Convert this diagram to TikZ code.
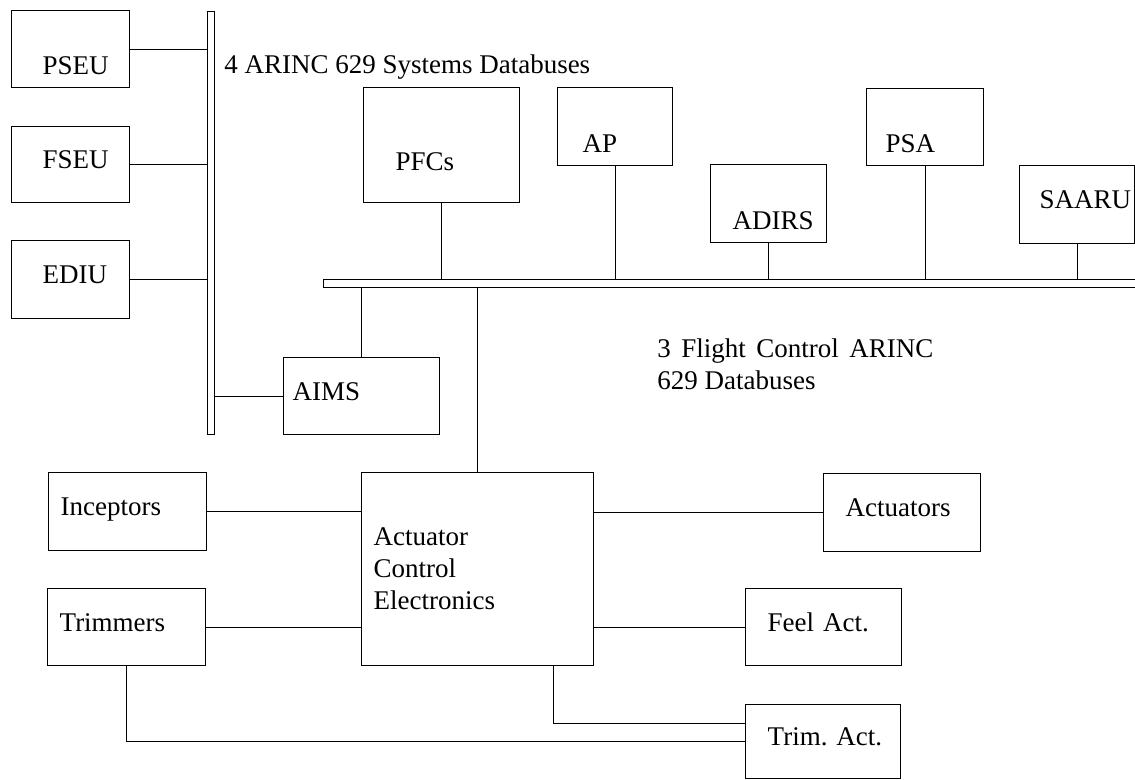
\documentclass[tikz,border=0pt]{standalone}
\usepackage{fontspec}
\setmainfont{Liberation Serif}
\usepackage{tikz}
\usetikzlibrary{positioning,calc}
\newcommand{\diagfont}{\fontsize{15.36}{18.2}\selectfont}

\begin{document}
\begin{tikzpicture}[
  box/.style={rectangle, draw, line width=0.8pt, anchor=north west,
              font=\diagfont, align=left, inner ysep=0pt},
  unitbox/.style={box, text height=10.75pt, text depth=6.3pt},
  lowtext/.style={text height=29.95pt, text depth=1.1pt},
  bus/.style={rectangle, draw, line width=0.8pt, anchor=north west, inner sep=0pt},
  buslabel/.style={font=\diagfont, inner sep=0pt},
  link/.style={line width=0.6pt}
]
\useasboundingbox (0,0) rectangle (22.70,-15.60);

% Databuses
\node[bus, minimum width=0.14cm, minimum height=8.46cm]  (sysbus) at (4.14,-0.22) {};
\node[bus, minimum width=16.34cm, minimum height=0.16cm] (fcbus)  at (6.46,-5.58) {};

\node[buslabel, anchor=base west] (syslabel) at (4.48,-1.48) {4 ARINC 629 Systems Databuses};
\node[buslabel, anchor=base west, text width=5.52cm, align=justify] (fclabel) at (13.14,-7.16)
  {3 Flight Control ARINC 629 Databuses};

% Systems units
\node[unitbox, lowtext, minimum height=1.54cm, inner xsep=0.62cm, text width=1.12cm] (pseu) at (0.22,-0.20) {PSEU};
\node[unitbox, minimum height=1.52cm, inner xsep=0.62cm, text width=1.12cm]          (fseu) at (0.22,-2.52) {FSEU};
\node[unitbox, minimum height=1.56cm, inner xsep=0.62cm, text width=1.12cm]          (ediu) at (0.22,-4.80) {EDIU};
\node[unitbox, minimum height=1.54cm, inner xsep=0.18cm, text width=2.76cm]          (aims) at (5.66,-7.14) {AIMS};

% Flight control units
\node[unitbox, lowtext, minimum height=2.30cm, inner xsep=0.64cm, text width=1.84cm] (pfcs)  at (7.26,-1.74)  {PFCs};
\node[unitbox, lowtext, minimum height=1.56cm, inner xsep=0.50cm, text width=1.30cm] (ap)    at (11.14,-1.74) {AP};
\node[unitbox, lowtext, minimum height=1.56cm, inner xsep=0.44cm, text width=1.44cm] (adirs) at (14.20,-3.28) {ADIRS};
\node[unitbox, lowtext, minimum height=1.54cm, inner xsep=0.38cm, text width=1.58cm] (psa)   at (17.32,-1.76) {PSA};
\node[unitbox, minimum height=1.56cm, inner xsep=0.40cm, text width=1.50cm]          (saaru) at (20.38,-3.30) {SAARU};

% Actuator control
\node[box, minimum height=3.86cm, inner xsep=0.24cm, text width=4.16cm] (ace) at (7.22,-9.44)
  {Actuator\\Control\\Electronics};
\node[unitbox, minimum height=1.56cm, inner xsep=0.24cm, text width=2.68cm] (incp)    at (0.96,-9.44)   {Inceptors};
\node[unitbox, minimum height=1.54cm, inner xsep=0.24cm, text width=2.68cm] (trimr)   at (0.94,-11.76)  {Trimmers};
\node[unitbox, minimum height=1.56cm, inner xsep=0.44cm, text width=2.26cm] (actr)    at (16.46,-9.46)  {Actuators};
\node[unitbox, minimum height=1.54cm, inner xsep=0.44cm, text width=2.24cm] (feel)    at (14.90,-11.76) {Feel~Act.};
\node[unitbox, minimum height=1.48cm, inner xsep=0.44cm, text width=2.22cm] (trimact) at (14.90,-14.08) {Trim.~Act.};

% Links to the systems databus
\foreach \u in {pseu,fseu,ediu}
  \draw[link] (\u.east) -- (\u.east -| sysbus.west);
\draw[link] (aims.west) -- (aims.west -| sysbus.east);

% Links to the flight control databus
\foreach \u in {pfcs,ap,adirs,psa,saaru}
  \draw[link] (\u.south) -- (\u.south |- fcbus.north);
\draw[link] (aims.north) -- (aims.north |- fcbus.south);
\draw[link] (ace.north)  -- (ace.north |- fcbus.south);

% ACE links
\draw[link] (incp.east)  -- (incp.east -| ace.west);
\draw[link] (trimr.east) -- (trimr.east -| ace.west);
\draw[link] (actr.west)  -- (actr.west -| ace.east);
\draw[link] (feel.west)  -- (feel.west -| ace.east);
\draw[link] ([xshift=1.52cm]ace.south) |- ([yshift=0.36cm]trimact.west);
\draw[link] (trimr.south) |- (trimact.west);
\end{tikzpicture}
\end{document}
